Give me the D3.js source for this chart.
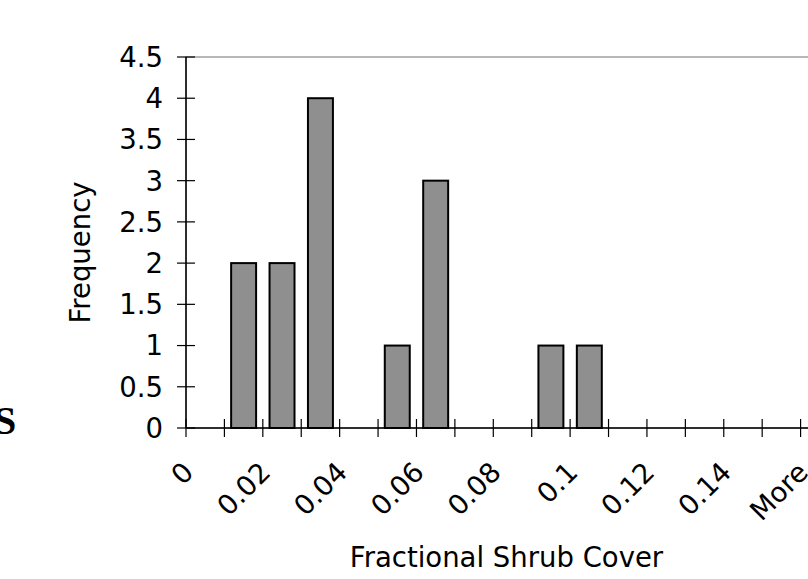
<!DOCTYPE html>
<html>
<head>
<meta charset="utf-8">
<script src="https://cdn.jsdelivr.net/npm/d3@7"></script>
<style>
  body { margin: 0; background: #fff; }
  svg { display: block; font-family: "DejaVu Sans", Verdana, sans-serif; }
</style>
</head>
<body>
<svg id="chart" width="808" height="579"></svg>
<script>
// histogram bins (Excel style upper edges) and counts
const bins = ["0", "0.01", "0.02", "0.03", "0.04", "0.05", "0.06", "0.07", "0.08",
              "0.09", "0.1", "0.11", "0.12", "0.13", "0.14", "0.15", "More"];
const counts = [0, 2, 2, 4, 0, 1, 3, 0, 0, 1, 1, 0, 0, 0, 0, 0, 0];
const yTicks = [0, 0.5, 1, 1.5, 2, 2.5, 3, 3.5, 4, 4.5];
// only every other bin gets a label
const shownLabels = bins.filter((d, i) => i % 2 === 0);

const svg = d3.select("#chart");
const plot = { left: 186, top: 57, right: 839, bottom: 428 };
const fontSize = "27.5px";

const x = d3.scaleBand()
  .domain(bins)
  .range([plot.left, plot.right])
  .paddingInner(0.35)
  .paddingOuter(0.175);

const y = d3.scaleLinear().domain([0, 4.5]).range([plot.bottom, plot.top]);

// plot area border (grey)
svg.append("rect")
  .attr("x", plot.left).attr("y", plot.top)
  .attr("width", plot.right - plot.left).attr("height", plot.bottom - plot.top)
  .attr("fill", "none").attr("stroke", "#a0a0a0").attr("stroke-width", 1.5);

// bars
svg.append("g")
  .selectAll("rect")
  .data(bins.map((b, i) => ({ bin: b, value: counts[i] })).filter(d => d.value > 0))
  .join("rect")
  .attr("x", d => x(d.bin))
  .attr("y", d => y(d.value))
  .attr("width", x.bandwidth())
  .attr("height", d => y(0) - y(d.value))
  .attr("fill", "#8f8f8f")
  .attr("stroke", "#000")
  .attr("stroke-width", 2);

// y axis
const yAxis = svg.append("g").attr("transform", `translate(${plot.left},0)`);
yAxis.append("line")
  .attr("y1", plot.top).attr("y2", plot.bottom)
  .attr("stroke", "#000").attr("stroke-width", 1.5);
yAxis.selectAll("line.tick")
  .data(yTicks)
  .join("line")
  .attr("class", "tick")
  .attr("x1", -9).attr("x2", 9)
  .attr("y1", d => y(d)).attr("y2", d => y(d))
  .attr("stroke", "#000").attr("stroke-width", 1.2);
yAxis.selectAll("text")
  .data(yTicks)
  .join("text")
  .attr("x", -23)
  .attr("y", d => y(d))
  .attr("dy", "0.36em")
  .attr("text-anchor", "end")
  .style("font-size", fontSize)
  .text(d => d);

// x axis
const xAxis = svg.append("g");
xAxis.append("line")
  .attr("x1", plot.left).attr("x2", plot.right)
  .attr("y1", plot.bottom).attr("y2", plot.bottom)
  .attr("stroke", "#000").attr("stroke-width", 1.5);
const edges = bins.map(b => x(b) - x.step() * x.paddingInner() / 2);
edges.push(plot.right);
xAxis.selectAll("line.tick")
  .data(edges)
  .join("line")
  .attr("class", "tick")
  .attr("x1", d => d).attr("x2", d => d)
  .attr("y1", plot.bottom - 9).attr("y2", plot.bottom + 9)
  .attr("stroke", "#000").attr("stroke-width", 1.2);
xAxis.selectAll("text")
  .data(shownLabels)
  .join("text")
  .attr("transform", d => `translate(${x(d) + x.bandwidth() / 2 - 10},474) rotate(-45)`)
  .attr("text-anchor", "end")
  .style("font-size", fontSize)
  .text(d => d);

// axis titles
svg.append("text")
  .attr("transform", `translate(90,${(plot.top + plot.bottom) / 2 + 10}) rotate(-90)`)
  .attr("text-anchor", "middle")
  .style("font-size", fontSize)
  .text("Frequency");

svg.append("text")
  .attr("x", (plot.left + plot.right) / 2 - 6)
  .attr("y", 567)
  .attr("text-anchor", "middle")
  .style("font-size", fontSize)
  .text("Fractional Shrub Cover");

// stray letter from neighbouring content at the left edge
svg.append("text")
  .attr("x", -6)
  .attr("y", 434)
  .style("font-family", "'Liberation Serif', serif")
  .style("font-weight", "bold")
  .style("font-size", "40px")
  .text("S");
</script>
</body>
</html>
